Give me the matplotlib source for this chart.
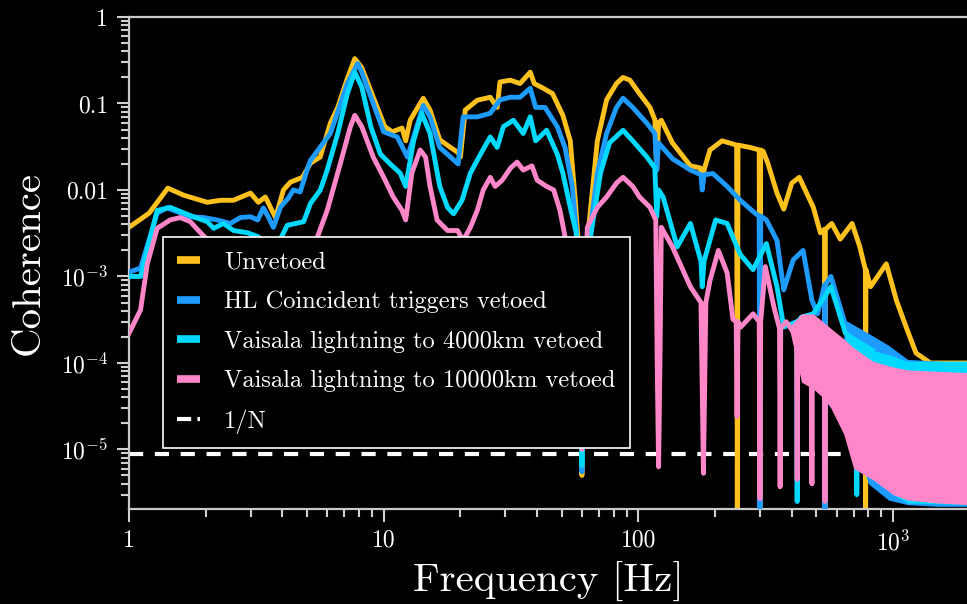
import numpy as np
import matplotlib
matplotlib.use('Agg')
import matplotlib.pyplot as plt
from matplotlib.lines import Line2D
from matplotlib.ticker import FixedLocator, FixedFormatter, LogLocator, NullFormatter

# values, (frequency [Hz], coherence)
unvetoed = [(1.0, 3.7e-3), (1.2, 5.4e-3), (1.42, 1.05e-2), (1.64, 8.7e-3), (2.03, 7.2e-3), (2.29, 7.6e-3),
            (2.57, 7.6e-3), (3.0, 9.2e-3), (3.22, 7.2e-3), (3.43, 8.3e-3), (3.53, 7.0e-3), (3.76, 4.8e-3),
            (4.04, 1.0e-2), (4.3, 1.23e-2), (4.8, 1.4e-2), (5.16, 2.04e-2), (5.63, 2.4e-2), (6.17, 5.9e-2),
            (6.6, 9.0e-2), (7.2, 0.195), (7.7, 0.33), (8.2, 0.26), (9.1, 0.118), (10.1, 0.054), (10.8, 0.047),
            (11.8, 0.052), (12.2, 0.037), (12.7, 0.064), (14.3, 0.115), (15.2, 0.084), (16.6, 0.038),
            (18.3, 0.031), (19.6, 0.027), (20.0, 0.024), (20.9, 0.084), (23.3, 0.109), (26.2, 0.118),
            (27.9, 0.09), (28.6, 0.177), (31.4, 0.186), (34.3, 0.17), (37.6, 0.23), (39.0, 0.17), (42.3, 0.15),
            (46.0, 0.13), (50.5, 0.073), (54.0, 0.037), (56.5, 7.6e-3), (58.0, 2.6e-3), (59.5, 2e-4),
            (60.0, 5e-6), (60.5, 2e-4), (63.5, 3.2e-3), (69.0, 0.037), (75.0, 0.11), (82.0, 0.17), (87.0, 0.2),
            (92.6, 0.186), (101, 0.13), (111, 0.09), (116, 0.065), (118, 0.017), (120, 0.06), (123, 0.064),
            (136, 0.035), (160, 0.019), (175, 0.018), (178, 0.013), (182, 0.018), (191, 0.029), (213, 0.037),
            (243, 0.033), (244.5, 2e-6), (246, 0.033), (275, 0.031), (298, 0.029), (300, 2e-6), (302, 0.029),
            (309, 0.028), (322, 0.0205), (350, 9.2e-3), (372, 6e-3), (400, 0.012), (428, 0.014), (486, 6.3e-3),
            (518, 3.2e-3), (538, 3.5e-3), (540, 2e-6), (542, 3.5e-3), (574, 4.1e-3), (620, 2.7e-3),
            (690, 4.1e-3), (740, 2.2e-3), (778, 1.2e-3), (780, 2e-6), (782, 1.2e-3), (815, 7.6e-4),
            (940, 1.4e-3), (1030, 5.3e-4), (1125, 2.6e-4), (1230, 1.3e-4), (1400, 1.0e-4), (2000, 1.0e-4)]

hl_coinc = [(1.0, 1.12e-3), (1.11, 1.25e-3), (1.29, 5.4e-3), (1.41, 6.2e-3), (1.55, 5.6e-3), (1.74, 4.9e-3),
            (1.96, 4.8e-3), (2.22, 4.5e-3), (2.5, 4.1e-3), (2.74, 4.8e-3), (3.0, 4.9e-3), (3.2, 4.5e-3),
            (3.37, 6.2e-3), (3.52, 4.9e-3), (3.69, 3.7e-3), (3.93, 6.3e-3), (4.23, 8.1e-3), (4.42, 0.010),
            (4.7, 9.5e-3), (5.0, 0.017), (5.16, 0.022), (6.17, 0.045), (6.6, 0.08), (7.2, 0.17), (7.9, 0.29),
            (8.2, 0.23), (9.1, 0.10), (10.0, 0.047), (11.3, 0.041), (12.4, 0.024), (14.3, 0.095), (15.2, 0.07),
            (16.6, 0.031), (18.3, 0.024), (19.6, 0.020), (20.5, 0.07), (23.3, 0.07), (26.2, 0.077),
            (28.6, 0.11), (31.4, 0.118), (34.3, 0.118), (37.6, 0.15), (39.5, 0.09), (43.0, 0.09), (48.0, 0.054),
            (51.5, 0.031), (55.0, 0.011), (57.5, 2.7e-3), (59.5, 2e-4), (60.0, 5.5e-6), (60.5, 2e-4),
            (64.5, 3.2e-3), (69.0, 0.0157), (75.0, 0.045), (82.0, 0.09), (87.0, 0.115), (95.0, 0.09),
            (108, 0.059), (116, 0.045), (118, 0.017), (120, 0.035), (136, 0.023), (160, 0.017), (176, 0.015),
            (178, 0.010), (181, 0.015), (196, 0.0155), (223, 0.011), (251, 7.6e-3), (289, 5.3e-3),
            (298, 5e-3), (300, 2e-6), (302, 5e-3), (318, 4.5e-3), (350, 2.6e-3), (372, 7.0e-4),
            (405, 1.55e-3), (443, 2.0e-3), (480, 5.3e-4), (505, 3.7e-4), (538, 8e-4), (540, 2e-6),
            (542, 8e-4), (570, 1.0e-3), (640, 3.2e-4)]

vaisala_4000 = [(1.0, 1.0e-3), (1.11, 1.0e-3), (1.29, 5.8e-3), (1.45, 6.3e-3), (1.6, 5.6e-3), (1.79, 4.9e-3),
                (2.03, 4.3e-3), (2.15, 3.6e-3), (2.35, 4.1e-3), (2.57, 3.4e-3), (2.92, 3.2e-3), (3.2, 2.9e-3),
                (3.5, 2.3e-3), (3.7, 2.0e-3), (3.93, 2.7e-3), (4.18, 3.9e-3), (4.85, 4.3e-3), (5.16, 7.0e-3),
                (5.64, 0.010), (6.0, 0.017), (6.6, 0.045), (7.2, 0.13), (7.7, 0.23), (8.2, 0.155), (8.9, 0.054),
                (9.7, 0.026), (10.6, 0.020), (11.6, 0.0157), (12.2, 0.011), (13.1, 0.037), (14.1, 0.077),
                (15.2, 0.045), (16.6, 0.011), (17.8, 6.3e-3), (18.8, 5.3e-3), (20.3, 7.6e-3), (21.9, 0.0157),
                (24.0, 0.026), (26.2, 0.041), (27.9, 0.031), (29.5, 0.054), (32.3, 0.064), (35.3, 0.045),
                (37.6, 0.07), (39.5, 0.037), (43.6, 0.049), (48.0, 0.026), (50.5, 0.0157), (54.0, 6.3e-3),
                (57.0, 3.2e-3), (59.5, 2e-4), (60.0, 6.5e-6), (60.5, 2e-4), (64.5, 2.6e-3), (71.0, 0.0157),
                (77.0, 0.035), (87.0, 0.049), (95.0, 0.037), (108, 0.024), (116, 0.018), (118, 4.9e-3),
                (120, 0.01), (125, 8.3e-3), (142, 2.2e-3), (160, 4.1e-3), (176, 1.5e-3), (178, 7.6e-4),
                (181, 1.5e-3), (201, 4.5e-3), (223, 4.1e-3), (251, 1.8e-3), (282, 1.2e-3), (318, 2.4e-3),
                (350, 7.6e-4), (372, 2.6e-4), (418, 3e-4), (420, 2.5e-6), (422, 3e-4), (437, 3.4e-4),
                (486, 3.7e-4), (570, 7.6e-4), (650, 2.2e-4), (718, 1.8e-4), (720, 3e-6), (722, 1.8e-4),
                (830, 1.4e-4)]

vaisala_10000 = [(1.0, 2.2e-4), (1.11, 4.1e-4), (1.18, 1.4e-3), (1.29, 3.6e-3), (1.45, 4.5e-3), (1.59, 4.8e-3),
                 (1.74, 4.3e-3), (1.91, 3.2e-3), (2.3, 1.8e-3), (3.0, 1.2e-3), (4.0, 1.1e-3), (5.0, 1.6e-3),
                 (5.5, 2.9e-3), (6.0, 5.8e-3), (6.75, 0.02), (7.4, 0.054), (7.7, 0.073), (8.2, 0.054),
                 (9.1, 0.024), (10.0, 0.014), (10.9, 8.3e-3), (11.8, 5.8e-3), (12.2, 4.5e-3), (12.9, 0.0157),
                 (13.9, 0.029), (14.6, 0.024), (15.2, 0.011), (16.2, 4.5e-3), (17.8, 3.4e-3), (19.5, 3.4e-3),
                 (20.5, 2.6e-3), (21.9, 3.7e-3), (23.3, 5.8e-3), (24.6, 0.010), (26.2, 0.014), (27.4, 0.011),
                 (29.2, 0.013), (31.5, 0.018), (33.4, 0.021), (35.3, 0.017), (38.2, 0.019), (40.0, 0.013),
                 (43.6, 0.011), (46.5, 0.010), (49.2, 5.8e-3), (51.5, 2.9e-3), (55.0, 8e-4), (58.0, 2e-4),
                 (60.0, 1e-5), (61.0, 3e-4), (63.0, 3.7e-3), (69.0, 6.3e-3), (75.0, 8.3e-3), (82.0, 0.012),
                 (87.0, 0.014), (95.0, 0.011), (101, 8.3e-3), (111, 6.3e-3), (117, 4.5e-3), (118.5, 1e-4),
                 (120, 6.3e-6), (121.5, 1e-4), (123, 3.7e-3), (136, 2.2e-3), (160, 7.6e-4), (176, 5e-4),
                 (178.5, 3e-5), (180, 5.3e-6), (181.5, 3e-5), (184, 5e-4), (191, 9e-4), (206, 2e-3),
                 (223, 1.1e-3), (235, 3.2e-4), (242, 3e-4), (244, 2.4e-5), (246, 3e-4), (252, 2.6e-4),
                 (282, 3.7e-4), (298, 3e-4), (300, 2.7e-6), (302, 3e-4), (315, 1.3e-3), (340, 4.5e-4),
                 (358, 2.5e-4), (360, 3.7e-6), (362, 2.5e-4), (380, 3e-4), (418, 2e-4), (420, 4.5e-6),
                 (422, 2e-4), (478, 2e-4), (480, 4e-6), (482, 2e-4), (538, 1.5e-4), (540, 2.5e-6),
                 (542, 1.5e-4), (600, 1e-4)]

# high-frequency noise envelopes (frequency, upper, lower)
hl_band = [(640, 3.2e-4, 3e-5), (800, 2.2e-4, 4e-6), (960, 1.6e-4, 2.6e-6), (1140, 1.1e-4, 2.3e-6),
           (1500, 1.05e-4, 2.2e-6), (2000, 1.0e-4, 2.2e-6)]
v4000_band = [(650, 2.2e-4, 3e-5), (830, 1.4e-4, 5e-6), (1000, 1.2e-4, 3e-6), (1140, 1.05e-4, 2.4e-6),
              (2000, 1.05e-4, 2.3e-6)]
v10000_band = [(390, 2.6e-4, 2.6e-4), (437, 3.7e-4, 6e-5), (486, 3.7e-4, 5e-5), (530, 3.0e-4, 4e-5),
               (570, 2.5e-4, 3e-5), (640, 1.9e-4, 1.5e-5), (700, 1.5e-4, 6e-6), (830, 1.05e-4, 4.5e-6),
               (1000, 9e-5, 3e-6), (1140, 8.3e-5, 2.6e-6), (1500, 8e-5, 2.4e-6), (2000, 7.7e-5, 2.3e-6)]

one_over_n = 8.9e-6

labels = ['Unvetoed', 'HL Coincident triggers vetoed', 'Vaisala lightning to 4000km vetoed',
          'Vaisala lightning to 10000km vetoed']
colors = ['#ffc11e', '#1e9bff', '#00d9ff', '#ff86c8']

plt.rcParams['font.family'] = 'serif'
plt.rcParams['font.serif'] = ['cmr10']
plt.rcParams['mathtext.fontset'] = 'cm'
plt.rcParams['axes.unicode_minus'] = False

fig = plt.figure(figsize=(9.67, 6.04), dpi=100, facecolor='black')
ax = fig.add_axes([0.1334, 0.1573, 0.8666, 0.8146], facecolor='black')

ax.axhline(one_over_n, color='white', lw=3, dashes=(3.4, 2.8), zorder=1)

curves = [unvetoed, hl_coinc, vaisala_4000, vaisala_10000]
bands = [None, hl_band, v4000_band, v10000_band]
for i, (data, band) in enumerate(zip(curves, bands)):
    f, c = np.array(data).T
    ax.plot(f, c, color=colors[i], lw=3.5, zorder=2 + i)
    if band is not None:
        bf, hi, lo = np.array(band).T
        ax.fill_between(bf, lo, hi, color=colors[i], lw=0, zorder=2 + i)

ax.set_xscale('log')
ax.set_yscale('log')
ax.set_xlim(1, 1950)
ax.set_ylim(2.05e-6, 1)

ax.xaxis.set_major_locator(FixedLocator([1, 10, 100, 1000]))
ax.xaxis.set_major_formatter(FixedFormatter(['1', '10', '100', r'$10^3$']))
ax.xaxis.set_minor_locator(LogLocator(base=10, subs=np.arange(2, 10), numticks=20))
ax.xaxis.set_minor_formatter(NullFormatter())
ax.yaxis.set_major_locator(FixedLocator([1e-5, 1e-4, 1e-3, 1e-2, 1e-1, 1]))
ax.yaxis.set_major_formatter(FixedFormatter([r'$10^{-5}$', r'$10^{-4}$', r'$10^{-3}$', '0.01', '0.1', '1']))
ax.yaxis.set_minor_locator(LogLocator(base=10, subs=np.arange(2, 10), numticks=20))
ax.yaxis.set_minor_formatter(NullFormatter())

ax.tick_params(which='major', direction='out', length=9, width=1.5, color='#d0d0d0',
               labelcolor='white', labelsize=17, pad=6)
ax.tick_params(which='minor', direction='out', length=6, width=1.5, color='#d0d0d0')
for side in ['left', 'bottom', 'top']:
    ax.spines[side].set_color('#c8c8c8')
    ax.spines[side].set_linewidth(1.6)
ax.spines['right'].set_visible(False)

ax.set_xlabel('Frequency [Hz]', fontsize=29.5, color='white', labelpad=5)
ax.set_ylabel('Coherence', fontsize=29.5, color='white', labelpad=10)

handles = [Line2D([], [], color=c, lw=5.5, solid_capstyle='butt') for c in colors]
handles.append(Line2D([], [], color='white', lw=3, dashes=(3.4, 1.5)))
leg = ax.legend(handles, labels + ['1/N'], loc='upper left', bbox_to_anchor=(163 / 967, 1 - 237 / 604),
                bbox_transform=fig.transFigure, borderaxespad=0, fontsize=17.6, frameon=True,
                fancybox=False, framealpha=1, facecolor='black', edgecolor='white',
                handlelength=0.92, handletextpad=1.0, borderpad=0.58, labelspacing=0.71)
leg.get_frame().set_linewidth(1.2)
leg.set_zorder(20)
for t in leg.get_texts():
    t.set_color('white')

fig.savefig('out.png', dpi=100, facecolor='black')
